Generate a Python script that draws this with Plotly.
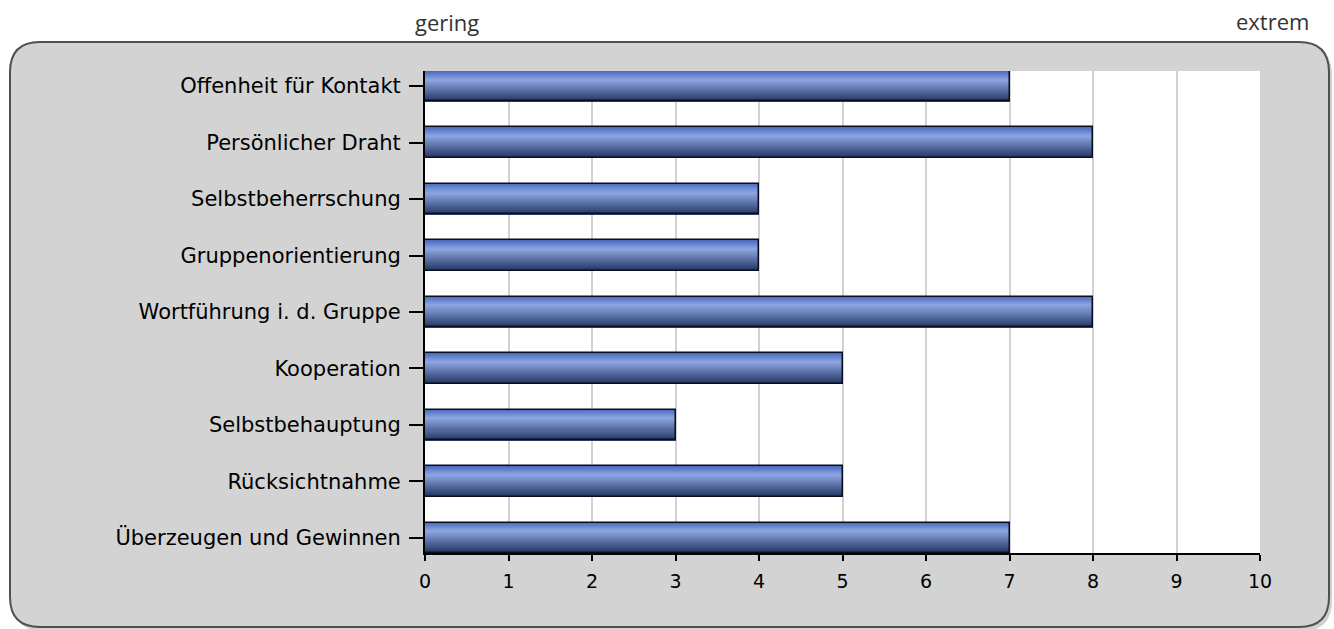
import plotly.graph_objects as go

categories = ["Offenheit für Kontakt", "Persönlicher Draht", "Selbstbeherrschung",
              "Gruppenorientierung", "Wortführung i. d. Gruppe", "Kooperation",
              "Selbstbehauptung", "Rücksichtnahme", "Überzeugen und Gewinnen"]
values = [7, 8, 4, 4, 8, 5, 3, 5, 7]
x_ticks = list(range(0, 11))
scale_low = "gering"
scale_high = "extrem"

W = 0.533
N = 30

def lerp(c1, c2, t):
    return tuple(round(a + (b - a) * t) for a, b in zip(c1, c2))

stops = [(0.0, (70, 104, 190)), (0.3, (142, 166, 226)), (1.0, (36, 56, 100))]

def grad(t):
    for (p0, c0), (p1, c1) in zip(stops[:-1], stops[1:]):
        if p0 <= t <= p1:
            return lerp(c0, c1, (t - p0) / (p1 - p0))
    return stops[-1][1]

fig = go.Figure()
for i in range(N):
    t = (i + 0.5) / N
    c = grad(t)
    fig.add_trace(go.Bar(
        y=categories, x=values, orientation="h",
        width=W / N * 1.3, offset=-W / 2 + i * W / N,
        marker=dict(color="rgb(%d,%d,%d)" % c, line=dict(width=0)),
        hoverinfo="skip", showlegend=False))
fig.add_trace(go.Bar(
    y=categories, x=values, orientation="h", width=W,
    marker=dict(color="rgba(0,0,0,0)", line=dict(color="#0a0f1e", width=1.5)),
    showlegend=False))

L, R, T, B = 425, 1260, 71, 553
pw, ph = R - L, B - T

def px(x):
    return (x - L) / pw

def py(y):
    return (B - y) / ph

def rrect(x0, y0, x1, y1, r):
    return ("M %f,%f L %f,%f Q %f,%f %f,%f L %f,%f Q %f,%f %f,%f L %f,%f Q %f,%f %f,%f "
            "L %f,%f Q %f,%f %f,%f Z") % (
        px(x0 + r), py(y0), px(x1 - r), py(y0), px(x1), py(y0), px(x1), py(y0 + r),
        px(x1), py(y1 - r), px(x1), py(y1), px(x1 - r), py(y1),
        px(x0 + r), py(y1), px(x0), py(y1), px(x0), py(y1 - r),
        px(x0), py(y0 + r), px(x0), py(y0), px(x0 + r), py(y0))

shapes = [
    dict(type="path", xref="paper", yref="paper", path=rrect(13, 45, 1332, 631, 30),
         fillcolor="rgba(0,0,0,0.18)", line=dict(width=0), layer="below"),
    dict(type="path", xref="paper", yref="paper", path=rrect(10, 42, 1329, 627, 30),
         fillcolor="#d3d3d3", line=dict(color="#505050", width=2), layer="below"),
    dict(type="rect", xref="paper", yref="paper", x0=0, x1=1, y0=0, y1=1,
         fillcolor="white", line=dict(width=0), layer="below"),
]

fig.update_layout(
    width=1334, height=629,
    margin=dict(l=L, r=1334 - R, t=T, b=629 - B),
    paper_bgcolor="white", plot_bgcolor="white",
    barmode="overlay", bargap=0,
    shapes=shapes,
    font=dict(family="DejaVu Sans", size=18, color="#111"),
    xaxis=dict(range=[0, 10], tickvals=x_ticks, showgrid=True, gridcolor="#d2d2d2",
               gridwidth=1.5, ticks="outside", ticklen=6, tickcolor="black", tickwidth=1.5,
               showline=True, linecolor="black", linewidth=2, zeroline=False,
               ticklabelstandoff=4, tickfont=dict(size=19, color="#000")),
    yaxis=dict(range=[8 + W / 2, -W / 2], ticks="outside", ticklen=14, tickcolor="black",
               tickwidth=1.5, showline=True, linecolor="black", linewidth=2, showgrid=False,
               ticklabelstandoff=4, tickfont=dict(size=21, color="#000")),
    annotations=[
        dict(text=scale_low, xref="paper", yref="paper", x=px(447), y=py(22),
             xanchor="center", yanchor="middle",
             showarrow=False, font=dict(family="Open Sans", size=22, color="#333")),
        dict(text=scale_high, xref="paper", yref="paper", x=px(1272), y=py(21),
             xanchor="center", yanchor="middle",
             showarrow=False, font=dict(family="Open Sans", size=22, color="#333")),
    ],
)

fig.write_html("out.html")
